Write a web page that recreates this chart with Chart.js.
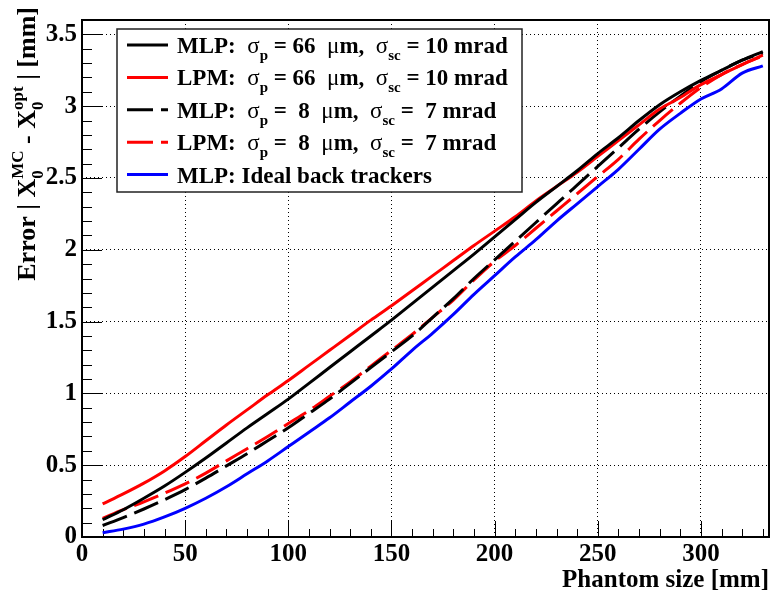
<!DOCTYPE html>
<html>
<head>
<meta charset="utf-8">
<script src="https://cdn.jsdelivr.net/npm/chart.js@4.4.1/dist/chart.umd.min.js"></script>
<style>
  html, body { margin: 0; padding: 0; background: #fff; }
  #wrap { width: 771px; height: 592px; }
</style>
</head>
<body>
<div id="wrap"><canvas id="c" width="771" height="592"></canvas></div>
<script>
// ---- data ----
const phantomSize = [10, 20, 30, 40, 50, 60, 70, 80, 90, 100, 110, 120, 130, 140, 150, 160,
  170, 180, 190, 200, 210, 220, 230, 240, 250, 260, 270, 280, 290, 300, 310, 320, 330];

const mlp66 = [0.12, 0.19, 0.27, 0.355, 0.45, 0.55, 0.655, 0.76, 0.86, 0.96, 1.07, 1.18, 1.29, 1.40, 1.51, 1.625,
  1.74, 1.855, 1.97, 2.09, 2.21, 2.33, 2.44, 2.55, 2.67, 2.78, 2.90, 3.01, 3.10, 3.18, 3.25, 3.32, 3.38];
const lpm66 = [0.23, 0.30, 0.375, 0.46, 0.56, 0.67, 0.78, 0.885, 0.99, 1.09, 1.195, 1.30, 1.405, 1.51, 1.61, 1.715,
  1.82, 1.925, 2.03, 2.13, 2.23, 2.34, 2.44, 2.54, 2.65, 2.76, 2.87, 2.98, 3.06, 3.15, 3.22, 3.29, 3.355];
const mlp8 = [0.08, 0.135, 0.195, 0.26, 0.33, 0.41, 0.495, 0.58, 0.67, 0.76, 0.86, 0.96, 1.07, 1.18, 1.29, 1.40,
  1.53, 1.66, 1.80, 1.93, 2.06, 2.19, 2.32, 2.45, 2.58, 2.71, 2.84, 2.96, 3.07, 3.17, 3.25, 3.32, 3.37];
const lpm8 = [0.13, 0.19, 0.245, 0.305, 0.37, 0.445, 0.53, 0.615, 0.70, 0.79, 0.88, 0.98, 1.08, 1.19, 1.30, 1.41,
  1.53, 1.65, 1.79, 1.92, 2.03, 2.15, 2.27, 2.39, 2.51, 2.63, 2.77, 2.90, 3.02, 3.13, 3.22, 3.29, 3.35];
const mlpIdeal = [0.03, 0.055, 0.09, 0.14, 0.20, 0.27, 0.35, 0.44, 0.53, 0.63, 0.73, 0.83, 0.94, 1.05, 1.17, 1.30,
  1.42, 1.55, 1.69, 1.82, 1.95, 2.07, 2.20, 2.32, 2.44, 2.56, 2.70, 2.84, 2.95, 3.05, 3.12, 3.23, 3.28];

const xTicks = [0, 50, 100, 150, 200, 250, 300];
const yTicks = [0, 0.5, 1, 1.5, 2, 2.5, 3, 3.5];

const SERIF = '"Liberation Serif", "DejaVu Serif", serif';

// legend entries: text pieces, g = greek (not bold), sub = subscript
const legendRows = [
  { color: '#000000', dash: [], parts: [{ t: 'MLP:  ' }, { t: 'σ', g: 1 }, { sub: 'p' }, { t: ' = 66  ' }, { t: 'μ', g: 1 }, { t: 'm,  ' }, { t: 'σ', g: 1 }, { sub: 'sc' }, { t: ' = 10 mrad' }] },
  { color: '#ff0000', dash: [], parts: [{ t: 'LPM:  ' }, { t: 'σ', g: 1 }, { sub: 'p' }, { t: ' = 66  ' }, { t: 'μ', g: 1 }, { t: 'm,  ' }, { t: 'σ', g: 1 }, { sub: 'sc' }, { t: ' = 10 mrad' }] },
  { color: '#000000', dash: [26, 8], parts: [{ t: 'MLP:  ' }, { t: 'σ', g: 1 }, { sub: 'p' }, { t: ' =  8  ' }, { t: 'μ', g: 1 }, { t: 'm,  ' }, { t: 'σ', g: 1 }, { sub: 'sc' }, { t: ' =  7 mrad' }] },
  { color: '#ff0000', dash: [26, 8], parts: [{ t: 'LPM:  ' }, { t: 'σ', g: 1 }, { sub: 'p' }, { t: ' =  8  ' }, { t: 'μ', g: 1 }, { t: 'm,  ' }, { t: 'σ', g: 1 }, { sub: 'sc' }, { t: ' =  7 mrad' }] },
  { color: '#0000ff', dash: [], parts: [{ t: 'MLP: Ideal back trackers' }] }
];

const yTitle = [{ t: 'Error | X' }, { sub: '0', sup: 'MC' }, { t: ' - X' }, { sub: '0', sup: 'opt' }, { t: ' | [mm]' }];

// draw a line of text with sub/superscripts, returns width
function drawRich(ctx, parts, x, y, size, measureOnly) {
  const small = Math.round(size * 0.66);
  let cx = x;
  parts.forEach(p => {
    if (p.t !== undefined) {
      ctx.font = (p.g ? '' : 'bold ') + size + 'px ' + SERIF;
      if (!measureOnly) ctx.fillText(p.t, cx, y);
      cx += ctx.measureText(p.t).width;
    } else {
      ctx.font = 'bold ' + small + 'px ' + SERIF;
      let w = 0;
      if (p.sub) {
        if (!measureOnly) ctx.fillText(p.sub, cx, y + size * 0.3);
        w = Math.max(w, ctx.measureText(p.sub).width);
      }
      if (p.sup) {
        if (!measureOnly) ctx.fillText(p.sup, cx, y - size * 0.45);
        w = Math.max(w, ctx.measureText(p.sup).width);
      }
      cx += w;
    }
  });
  return cx - x;
}

const rootStyle = {
  id: 'rootStyle',
  beforeDatasetsDraw(chart) {
    const { ctx, chartArea: a, scales: { x, y } } = chart;
    ctx.save();
    ctx.strokeStyle = '#000';
    ctx.lineWidth = 1;
    ctx.beginPath();
    // x ticks, every 10 mm, long ones at the labels
    for (let v = 0; v <= x.max; v += 10) {
      const px = Math.round(x.getPixelForValue(v)) + 0.5;
      const len = v % 50 === 0 ? 16 : 8;
      ctx.moveTo(px, a.bottom);
      ctx.lineTo(px, a.bottom - len);
    }
    // y ticks, every 0.1 mm
    for (let i = 0; i <= 35; i++) {
      const py = Math.round(y.getPixelForValue(i / 10)) + 0.5;
      const len = i % 5 === 0 ? 20 : 10;
      ctx.moveTo(a.left, py);
      ctx.lineTo(a.left + len, py);
    }
    ctx.stroke();
    // frame
    ctx.lineWidth = 2;
    ctx.strokeRect(a.left, a.top, a.right - a.left, a.bottom - a.top);
    ctx.restore();
  },
  afterDraw(chart) {
    const ctx = chart.ctx;
    ctx.save();
    ctx.fillStyle = '#000';
    ctx.textBaseline = 'alphabetic';
    ctx.textAlign = 'left';

    // x title
    ctx.font = 'bold 25px ' + SERIF;
    ctx.textAlign = 'right';
    ctx.fillText('Phantom size [mm]', 769, 587);
    ctx.textAlign = 'left';

    // y title, rotated, right-aligned to the top of the frame
    const tSize = 26;
    const tw = drawRich(ctx, yTitle, 0, 0, tSize, true);
    ctx.save();
    ctx.translate(35, 7 + tw);
    ctx.rotate(-Math.PI / 2);
    drawRich(ctx, yTitle, 0, 0, tSize, false);
    ctx.restore();

    // legend box
    ctx.fillStyle = '#fff';
    ctx.fillRect(117, 29, 405, 163);
    ctx.strokeStyle = '#222';
    ctx.lineWidth = 1.5;
    ctx.strokeRect(117, 29, 405, 163);
    legendRows.forEach((row, i) => {
      const base = 53 + i * 32.4;
      ctx.strokeStyle = row.color;
      ctx.lineWidth = 3;
      ctx.setLineDash(row.dash);
      ctx.beginPath();
      ctx.moveTo(127, base - 8);
      ctx.lineTo(168, base - 8);
      ctx.stroke();
      ctx.setLineDash([]);
      ctx.fillStyle = '#000';
      drawRich(ctx, row.parts, 177, base, 23, false);
    });
    ctx.restore();
  }
};

function series(values) {
  return phantomSize.map((x, i) => ({ x: x, y: values[i] }));
}

const tickFont = { family: SERIF, size: 25, weight: 'bold' };

new Chart(document.getElementById('c'), {
  type: 'line',
  data: {
    datasets: [
      { label: 'mlp66', data: series(mlp66), borderColor: '#000000', borderWidth: 3 },
      { label: 'lpm66', data: series(lpm66), borderColor: '#ff0000', borderWidth: 3 },
      { label: 'mlp8', data: series(mlp8), borderColor: '#000000', borderWidth: 3, borderDash: [26, 8] },
      { label: 'lpm8', data: series(lpm8), borderColor: '#ff0000', borderWidth: 3, borderDash: [26, 8] },
      { label: 'ideal', data: series(mlpIdeal), borderColor: '#0000ff', borderWidth: 3 }
    ]
  },
  options: {
    responsive: false,
    animation: false,
    devicePixelRatio: 1,
    layout: { padding: { left: 0, right: 2, top: 7, bottom: 0 } },
    elements: { point: { radius: 0 }, line: { cubicInterpolationMode: 'monotone', fill: false } },
    plugins: { legend: { display: false }, tooltip: { enabled: false } },
    scales: {
      x: {
        type: 'linear',
        min: 0,
        max: 333,
        afterBuildTicks: s => { s.ticks = xTicks.map(v => ({ value: v })); },
        afterFit: s => { s.height = 55; },
        ticks: { font: tickFont, color: '#000', padding: 3, maxRotation: 0, autoSkip: false, callback: v => String(v) },
        grid: { color: '#000', lineWidth: 1, drawTicks: false },
        border: { display: false, dash: [1, 3] }
      },
      y: {
        type: 'linear',
        min: 0,
        max: 3.6,
        afterBuildTicks: s => { s.ticks = yTicks.map(v => ({ value: v })); },
        afterFit: s => { s.width = 82; },
        ticks: { font: tickFont, color: '#000', padding: 5, autoSkip: false, callback: v => String(v) },
        grid: { color: '#000', lineWidth: 1, drawTicks: false },
        border: { display: false, dash: [1, 3] }
      }
    }
  },
  plugins: [rootStyle]
});
</script>
</body>
</html>
